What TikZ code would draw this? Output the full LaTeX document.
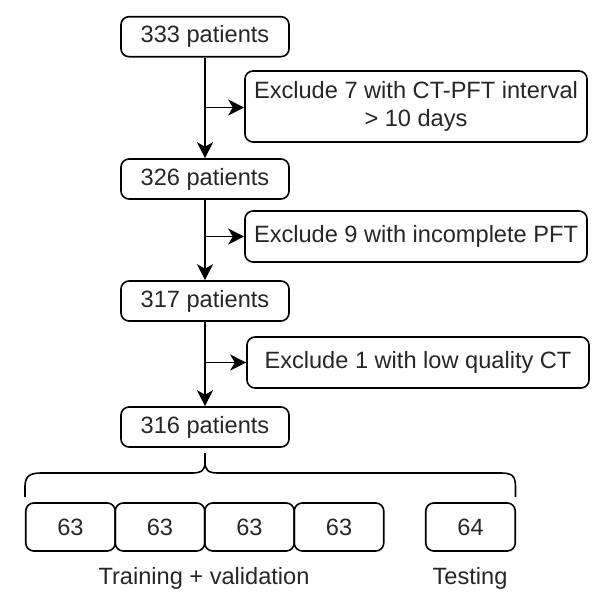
\documentclass[tikz,border=0pt]{standalone}
\usepackage{fontspec}
\setmainfont{Liberation Sans}
\usetikzlibrary{arrows.meta}
\begin{document}
\begin{tikzpicture}[x=1pt,y=-1pt,
  box/.style={draw, line width=1.6pt, rounded corners=8pt, inner sep=0pt, align=center,
    font=\fontsize{23.6}{28}\selectfont, text=black!85},
  pat/.style={box, minimum width=168pt, minimum height=40pt},
  excl/.style={box, minimum width=342pt},
  num/.style={box, minimum width=89.5pt, minimum height=48pt},
  lbl/.style={font=\fontsize{23.6}{28}\selectfont, text=black!85},
  arr/.style={line width=1.6pt, -{Stealth[length=16pt,width=16pt,inset=4.5pt]}},
  ln/.style={line width=1.6pt}]
\useasboundingbox (0,0) rectangle (608,606);
\node[pat] (n333) at (205,36.7) {333 patients};
\node[excl, minimum height=71pt] (e1) at (416,106.5) {Exclude 7 with CT-PFT interval\\> 10 days};
\node[pat] (n326) at (205,179) {326 patients};
\node[excl, minimum height=51pt] (e2) at (416,236.5) {Exclude 9 with incomplete PFT};
\node[pat] (n317) at (205,301) {317 patients};
\node[excl, minimum height=51pt] (e3) at (418,362.5) {Exclude 1 with low quality CT};
\node[pat] (n316) at (205,427) {316 patients};

\draw[arr] (n333) -- (n326);
\draw[arr] (n326) -- (n317);
\draw[arr] (n317) -- (n316);
\draw[arr] (205,107.5) -- (e1.west |- 0,107.5);
\draw[arr] (205,236.5) -- (e2.west);
\draw[arr] (205,362.5) -- (e3.west);

\node[num] (b1) at (70.5,527) {63};
\node[num] (b2) at (160,527) {63};
\node[num] (b3) at (249.5,527) {63};
\node[num] (b4) at (339,527) {63};
\node[num] (b5) at (470.5,527) {64};

\coordinate (tip) at (205,453);
\draw[ln] (b1.north west |- 0,497) -- (b1.north west |- 0,487)
  .. controls (b1.north west |- 0,476) and (30,473) .. (41,473)
  -- (192,473) .. controls (202,473) and (205,470) .. (205,462) -- (tip);
\draw[ln] (205,462) .. controls (205,470) and (208,473) .. (218,473)
  -- (501,473) .. controls (512,473) and (515.5,476) .. (515.5,487) -- (515.5,497);

\node[lbl] (t1) at (204,578) {Training + validation};
\node[lbl] (t2) at (470,578) {Testing};
\end{tikzpicture}
\end{document}
